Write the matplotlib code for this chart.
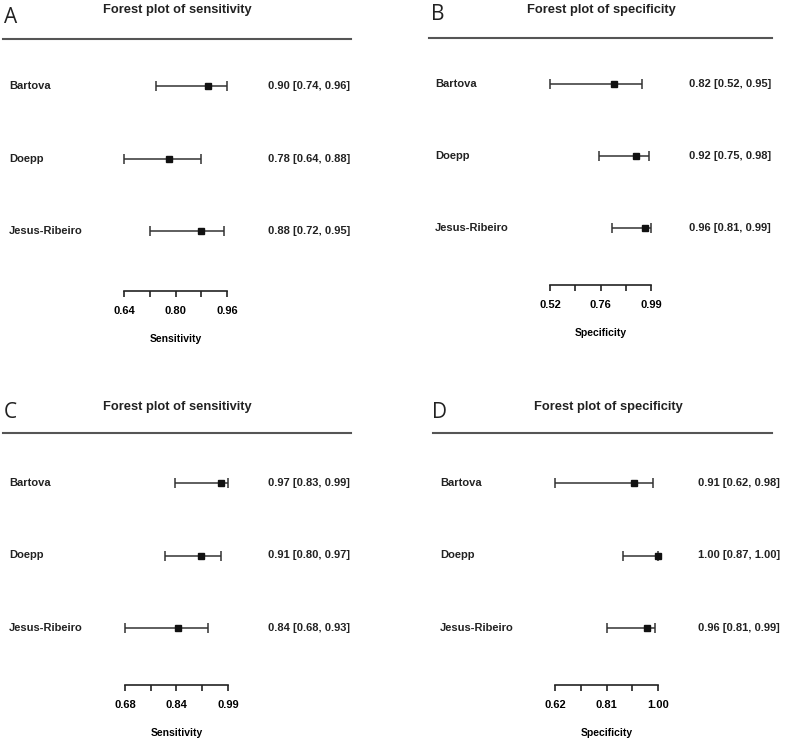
import numpy as np
import matplotlib
matplotlib.use("Agg")
import matplotlib.pyplot as plt
import matplotlib.transforms as mtransforms
from matplotlib.lines import Line2D

plt.rcParams['font.family'] = ['Liberation Sans', 'DejaVu Sans']

W, H = 787, 742

studies = ['Bartova', 'Doepp', 'Jesus-Ribeiro']

# panel A - sensitivity
sens_a = [0.90, 0.78, 0.88]
sens_a_lo = [0.74, 0.64, 0.72]
sens_a_hi = [0.96, 0.88, 0.95]
ticks_a = ['0.64', '0.80', '0.96']

# panel B - specificity
spec_b = [0.82, 0.92, 0.96]
spec_b_lo = [0.52, 0.75, 0.81]
spec_b_hi = [0.95, 0.98, 0.99]
ticks_b = ['0.52', '0.76', '0.99']

# panel C - sensitivity
sens_c = [0.97, 0.91, 0.84]
sens_c_lo = [0.83, 0.80, 0.68]
sens_c_hi = [0.99, 0.97, 0.93]
ticks_c = ['0.68', '0.84', '0.99']

# panel D - specificity
spec_d = [0.91, 1.00, 0.96]
spec_d_lo = [0.62, 0.87, 0.81]
spec_d_hi = [0.98, 1.00, 0.99]
ticks_d = ['0.62', '0.81', '1.00']

panels = [
    ('A', 'Forest plot of sensitivity', 'Sensitivity', sens_a, sens_a_lo, sens_a_hi, ticks_a),
    ('B', 'Forest plot of specificity', 'Specificity', spec_b, spec_b_lo, spec_b_hi, ticks_b),
    ('C', 'Forest plot of sensitivity', 'Sensitivity', sens_c, sens_c_lo, sens_c_hi, ticks_c),
    ('D', 'Forest plot of specificity', 'Specificity', spec_d, spec_d_lo, spec_d_hi, ticks_d),
]

# pixel layout of each panel
# letter (x, baseline y), title (x, y), rule (x0, x1, y), rows (first, last),
# axis (x0, x1, y), study label x, estimate text x
layout = [
    dict(letter=(4, 23), title=(177, 10), rule=(3, 351, 39), rows=(86, 231),
         axis=(124, 227, 291), lab_x=9, est_x=268),
    dict(letter=(431, 20), title=(601, 10), rule=(429, 772, 38), rows=(84, 228),
         axis=(550, 651, 285), lab_x=435, est_x=689),
    dict(letter=(4, 418), title=(177, 407), rule=(3, 351, 433), rows=(483, 628),
         axis=(125, 228, 685), lab_x=9, est_x=268),
    dict(letter=(432, 418), title=(608, 407), rule=(433, 772, 433), rows=(483, 628),
         axis=(555, 658, 685), lab_x=440, est_x=698),
]

fig = plt.figure(figsize=(W / 100, H / 100), dpi=100)

for (letter, title, xlab, est, lo, hi, tlabs), lay in zip(panels, layout):
    ax0, ax1, ay = lay['axis']
    r0, r2 = lay['rows']
    rule_y = lay['rule'][2]
    step = (r2 - r0) / (len(studies) - 1)
    ax = fig.add_axes([ax0 / W, 1 - ay / H, (ax1 - ax0) / W, (ay - rule_y) / H])
    ax.patch.set_alpha(0)

    xlo, xhi = float(tlabs[0]), float(tlabs[-1])
    ax.set_xlim(xlo, xhi)
    y_bot = len(studies) - 1 + (ay - r2) / step
    y_top = -(r0 - rule_y) / step
    ax.set_ylim(y_bot, y_top)

    rows = np.arange(len(studies))
    est = np.array(est)
    ax.errorbar(est, rows, xerr=[est - np.array(lo), np.array(hi) - est],
                fmt='s', color='#111111', ecolor='#333333', elinewidth=1.1,
                capsize=3.4, capthick=1.1, markersize=5, clip_on=False)

    for sp in ['top', 'left', 'right']:
        ax.spines[sp].set_visible(False)
    ax.spines['bottom'].set_linewidth(1.2)
    ax.spines['bottom'].set_color('#222222')
    ax.set_yticks([])
    ax.set_xticks(np.linspace(xlo, xhi, 5))
    ax.set_xticklabels([tlabs[0], '', tlabs[1], '', tlabs[2]])
    ax.tick_params(axis='x', length=4.5, width=1.2, color='#222222', pad=6.5,
                   labelsize=8)
    for t in ax.get_xticklabels():
        t.set_fontweight('bold')
    ax.set_xlabel(xlab, fontsize=7.5, fontweight='bold', labelpad=13)

    blend = mtransforms.blended_transform_factory(fig.transFigure, ax.transData)
    for i, name in enumerate(studies):
        ax.text(lay['lab_x'] / W, i, name, transform=blend, ha='left',
                va='center', fontsize=8, fontweight='bold', color='#222222')
        ax.text(lay['est_x'] / W, i, '%.2f [%.2f, %.2f]' % (est[i], lo[i], hi[i]),
                transform=blend, ha='left', va='center', fontsize=8,
                fontweight='bold', color='#222222')

    x0, x1, y = lay['rule']
    fig.add_artist(Line2D([x0 / W, x1 / W], [1 - y / H, 1 - y / H],
                          color='#555555', lw=1.5))
    fig.text(lay['title'][0] / W, 1 - lay['title'][1] / H, title, ha='center',
             va='center', fontsize=9.3, fontweight='bold', color='#222222')
    fig.text(lay['letter'][0] / W, 1 - lay['letter'][1] / H, letter, ha='left',
             va='baseline', fontsize=15, family='Open Sans', color='#222222')

fig.savefig('out.png', dpi=100)
